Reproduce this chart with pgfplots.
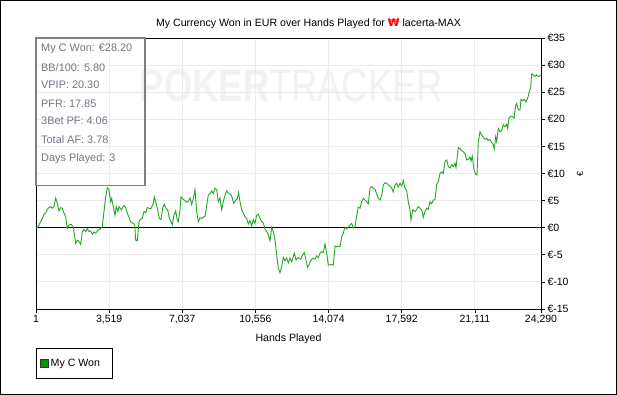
\documentclass[border=0pt]{standalone}
\usepackage{pgfplots}
\pgfplotsset{compat=1.18}
\usepackage{pgfplotstable}
\usepackage{fontspec}
\setmainfont{Liberation Sans}
\newfontfamily\dejavu{DejaVu Sans}
\definecolor{linegreen}{RGB}{34,168,34}
\definecolor{leggreen}{RGB}{0,150,0}
\definecolor{gridgray}{RGB}{235,235,235}
\definecolor{statgray}{RGB}{118,118,134}
\definecolor{boxgray}{RGB}{128,128,128}
\definecolor{wmgray}{RGB}{242,242,242}
\pgfplotstableread{
h v
1 0
62 0.0
144 0.5
226 1.1
303 1.7
385 2.5
467 2.7
544 3.4
625 3.7
707 3.9
784 3.6
866 3.9
948 5.5
1025 4.5
1106 3.1
1188 3.7
1265 3.6
1347 2.7
1429 2.0
1506 -0.1
1587 0.5
1698 0.6
1794 0.2
1910 -2.9
1987 -2.3
2068 -2.5
2150 -3.1
2227 -0.8
2309 -0.3
2391 -0.7
2468 -0.2
2549 -0.7
2631 -0.6
2708 -1.2
2790 -0.8
2872 -1.0
2949 -0.6
3030 -0.4
3112 -0.1
3189 0.2
3271 3.0
3353 5.7
3430 7.4
3511 7.0
3593 4.8
3641 5.4
3704 4.2
3800 2.3
3862 3.9
3944 3.0
3992 3.9
4103 3.3
4233 4.1
4315 3.7
4392 2.7
4555 1.1
4666 0.8
4748 0.6
4796 -2.3
4873 -2.4
4954 1.1
5036 1.6
5113 1.7
5195 3.0
5277 2.8
5354 3.7
5435 3.6
5532 3.5
5642 4.5
5690 5.7
5758 4.8
5854 3.3
5931 1.7
6013 1.5
6094 3.6
6171 4.3
6253 3.6
6335 3.3
6412 1.8
6494 1.1
6556 0.5
6638 2.3
6720 3.1
6797 1.4
6845 1.1
6926 3.3
6975 5.7
7056 5.3
7133 5.1
7249 4.7
7326 4.9
7407 5.5
7489 4.3
7566 5.4
7648 7.0
7730 3.0
7807 1.1
7888 1.8
7970 1.7
8047 2.0
8129 2.0
8211 4.1
8288 6.0
8370 6.3
8451 6.8
8528 6.3
8610 7.3
8692 7.0
8769 4.8
8851 5.5
8932 3.3
9009 4.8
9091 6.0
9173 6.8
9250 6.3
9365 6.2
9442 5.5
9509 4.5
9606 5.1
9683 5.3
9740 6.5
9812 4.8
9894 3.3
9971 2.7
10053 2.0
10134 1.7
10212 0.7
10293 1.3
10375 0.3
10452 1.5
10534 0.8
10616 2.3
10693 2.5
10774 1.7
10856 1.1
10933 0.9
11015 -0.3
11097 -0.7
11174 -1.3
11255 -2.4
11337 0.1
11414 -0.7
11496 -2.3
11578 -5.0
11655 -7.5
11736 -8.3
11818 -7.2
11895 -5.5
11977 -6.1
12059 -5.6
12136 -6.5
12218 -5.6
12299 -6.3
12425 -4.7
12507 -6.0
12617 -5.5
12733 -5.8
12829 -5.0
12906 -4.6
12988 -6.0
13069 -7.3
13146 -6.7
13228 -6.0
13310 -5.6
13420 -5.8
13502 -5.2
13579 -5.5
13661 -4.7
13743 -4.4
13820 -4.6
13901 -3.0
13983 -4.7
14060 -6.9
14190 -6.8
14301 -6.9
14382 -3.4
14464 -3.5
14541 -3.4
14623 -3.5
14705 -1.7
14782 -1.0
14863 0.1
14945 -0.2
15022 0.1
15104 0.5
15186 0.8
15263 -0.1
15344 0.2
15426 2.3
15503 3.8
15585 3.6
15667 4.8
15744 5.4
15825 5.1
15907 4.8
15984 4.4
16066 7.3
16148 7.6
16225 7.3
16306 7.1
16388 6.2
16465 5.4
16547 5.1
16629 6.0
16706 7.9
16787 8.3
16869 8.2
16946 7.9
17028 7.7
17110 7.3
17187 6.6
17268 7.9
17350 8.2
17427 7.5
17509 8.2
17591 7.7
17668 8.7
17749 7.3
17831 6.8
17908 4.8
17990 3.3
18038 1.4
18119 3.3
18230 3.0
18312 3.3
18389 3.9
18470 3.6
18552 3.3
18629 1.9
18711 3.0
18793 3.6
18870 3.4
18951 4.8
19033 4.4
19110 5.1
19192 5.2
19274 8.0
19351 8.5
19433 10.0
19514 10.3
19591 10.0
19673 12.2
19755 12.5
19832 11.3
19914 11.0
19995 11.6
20072 11.3
20154 11.9
20202 11.1
20236 12.2
20313 14.8
20394 14.6
20476 14.2
20553 14.0
20635 13.7
20717 12.5
20794 12.6
20875 13.1
20924 12.3
20986 13.2
21068 10.6
21149 9.9
21212 9.7
21274 15.9
21356 17.7
21438 17.1
21515 16.7
21596 16.3
21678 16.5
21755 16.1
21837 16.3
21919 15.7
21996 15.3
22044 14.5
22111 16.8
22159 15.9
22237 18.3
22318 17.7
22400 17.9
22477 19.0
22559 18.6
22641 19.1
22689 18.3
22751 20.3
22833 20.6
22910 20.5
22992 20.2
23073 22.6
23121 22.9
23199 21.8
23280 21.7
23329 23.7
23410 23.4
23487 23.7
23569 23.2
23651 23.9
23713 24.9
23795 26.0
23843 28.4
23920 28.2
24002 27.9
24084 28.2
24161 27.9
24243 28.0
24290 28.2
}\wondata
\begin{document}
\begin{tikzpicture}
\useasboundingbox (-36bp,-86bp) rectangle (581bp,309bp);
\fill[white] (-36bp,-86bp) rectangle (581bp,309bp);
% watermark
\node[inner sep=0pt, text=wmgray] at (255.5bp,223bp)
  {\resizebox{303bp}{32bp}{\bfseries POKER\mdseries TRACKER}};
\begin{axis}[
  at={(0,0)}, anchor=south west,
  scale only axis, width=505bp, height=271bp,
  xmin=1, xmax=24290, ymin=-15, ymax=35,
  scaled x ticks=false, scaled y ticks=false,
  xtick={1,3519,7037,10556,14074,17592,21111,24290},
  xticklabels={1,{3,519},{7,037},{10,556},{14,074},{17,592},{21,111},{24,290}},
  ytick={-15,-10,...,35},
  yticklabels={€-15,€-10,€-5,€0,€5,€10,€15,€20,€25,€30,€35},
  xtick pos=bottom, ytick pos=right, yticklabel pos=right,
  tick align=outside, major tick length=4bp,
  tick style={black, line width=0.8bp},
  axis line style={black, line width=1bp},
  grid=major, grid style={gridgray, line width=1bp},
  ticklabel style={font=\fontsize{10.5bp}{12bp}\selectfont},
  xticklabel style={yshift=1bp},
  yticklabel style={xshift=-1bp},
  xlabel={Hands Played},
  xlabel style={at={(axis description cs:0.5,-0.1107)}, anchor=center, font=\fontsize{10.6bp}{12bp}\selectfont},
  legend style={at={(axis description cs:0,-0.1439)}, anchor=north west,
     draw=black, line width=0.8bp, inner xsep=4bp, inner ysep=9bp,
     font=\fontsize{10.6bp}{12bp}\selectfont,
     nodes={inner sep=1.5bp}},
  legend cell align=left,
  legend image code/.code={\draw[fill=leggreen, draw=black!80, line width=0.8bp] (0bp,-4bp) rectangle (8bp,4bp);},
]
\addplot[black, line width=1bp, forget plot] coordinates {(1,0) (24290,0)};
\addplot[linegreen, line width=0.9bp] table[x=h, y=v] {\wondata};
\addlegendentry{My C Won\hspace*{7bp}}
\end{axis}
% y axis label (rotated euro sign)
\node[rotate=90, inner sep=0pt, font=\fontsize{9bp}{10bp}\selectfont] at (544bp,135bp) {€};
% stats box
\draw[boxgray, line width=1.5bp] (0bp,271bp) rectangle (109bp,123.5bp);
\begin{scope}[every node/.style={anchor=base west, inner sep=0pt, text=statgray, font=\fontsize{10.9bp}{12bp}\selectfont}]
\node at (5bp,257.7bp) {My C Won: €28.20};
\node at (5bp,237.7bp) {BB/100: 5.80};
\node at (5bp,220bp) {VPIP: 20.30};
\node at (5bp,201.7bp) {PFR: 17.85};
\node at (5bp,184bp) {3Bet PF: 4.06};
\node at (5bp,165.7bp) {Total AF: 3.78};
\node at (5bp,147.7bp) {Days Played: 3};
\end{scope}
% title
\node[inner sep=0pt, font=\fontsize{10.6bp}{12bp}\selectfont] at (272.5bp,285bp)
  {My Currency Won in EUR over Hands Played for \textcolor{red}{\dejavu\bfseries ₩} lacerta-MAX};
% frame
\draw[black, line width=1bp] (-35.5bp,-85.5bp) rectangle (580.5bp,308.5bp);
\end{tikzpicture}
\end{document}
